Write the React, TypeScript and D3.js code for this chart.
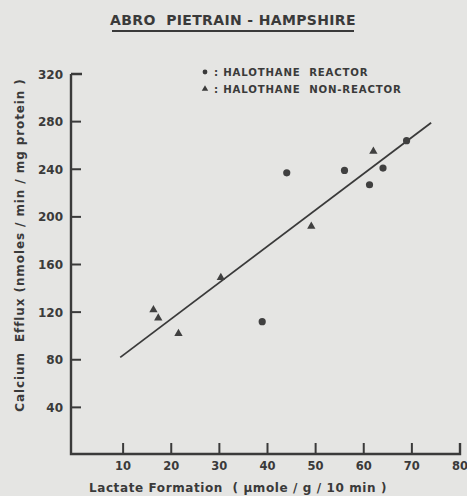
import React from "react";
import * as d3 from "d3";

const reactorX = [44, 56, 64, 61.2, 68.9, 38.9];
const reactorY = [237, 239, 241, 227, 264, 112];
const nonReactorX = [62, 49.1, 16.3, 17.3, 21.5, 30.3];
const nonReactorY = [255, 192, 122, 115, 102, 149];
const fitX = [9.4, 74];
const fitY = [82, 279];
const xTicks = [10, 20, 30, 40, 50, 60, 70, 80];
const yTicks = [40, 80, 120, 160, 200, 240, 280, 320];

const W = 467, H = 496;
const ink = "#3a3a3a";
const font = "'DejaVu Sans', sans-serif";

export default function App() {
  const x = d3.scaleLinear().domain([0, 80]).range([75, 460]);
  const y = d3.scaleLinear().domain([0, 320]).range([455, 74]);
  const line = d3.line<[number, number]>().x(d => x(d[0])).y(d => y(d[1]));
  const fit: [number, number][] = fitX.map((v, i) => [v, fitY[i]]);
  const tri = d3.symbol().type(d3.symbolTriangle).size(30)();
  const legTri = d3.symbol().type(d3.symbolTriangle).size(18)();
  const axisLeft = 71;
  const axisBottom = 454;
  return (
    <svg width={W} height={H} style={{ position: "fixed", left: 0, top: 0, background: "#e5e5e3" }}>
      <rect x={0} y={0} width={W} height={H} fill="#e5e5e3" />
      <text x={233} y={25} textAnchor="middle" fontFamily={font} fontWeight="bold" fontSize={14} letterSpacing={0.35} fill={ink}>
        ABRO{"\u00a0\u00a0"}PIETRAIN - HAMPSHIRE
      </text>
      <line x1={112} x2={354} y1={31} y2={31} stroke={ink} strokeWidth={1.8} />
      {/* legend */}
      <circle cx={205} cy={72} r={2.4} fill={ink} />
      <text x={214} y={76} fontFamily={font} fontWeight="bold" fontSize={10.2} letterSpacing={0.8} fill={ink}>:{"\u00a0"}HALOTHANE{"\u00a0\u00a0"}REACTOR</text>
      <path d={legTri as string} transform={`translate(205,89)`} fill={ink} />
      <text x={214} y={93} fontFamily={font} fontWeight="bold" fontSize={10.2} letterSpacing={0.8} fill={ink}>:{"\u00a0"}HALOTHANE{"\u00a0\u00a0"}NON-REACTOR</text>
      {/* axes */}
      <path d={`M${axisLeft},${y(320)}H${axisLeft + 11}M${axisLeft},${y(320)}V${axisBottom}H${x(80)}V${axisBottom - 11}`} fill="none" stroke={ink} strokeWidth={2.4} />
      {yTicks.filter(t => t < 320).map(t => (
        <line key={"yt" + t} x1={axisLeft} x2={axisLeft + 10} y1={y(t)} y2={y(t)} stroke={ink} strokeWidth={2} />
      ))}
      {yTicks.map(t => (
        <text key={"yl" + t} x={63} y={y(t) + 4.5} textAnchor="end" fontFamily={font} fontWeight="bold" fontSize={12} fill={ink}>{t}</text>
      ))}
      {xTicks.filter(t => t < 80).map(t => (
        <line key={"xt" + t} x1={x(t)} x2={x(t)} y1={axisBottom} y2={axisBottom - 11} stroke={ink} strokeWidth={2} />
      ))}
      {xTicks.map(t => (
        <text key={"xl" + t} x={x(t)} y={470} textAnchor="middle" fontFamily={font} fontWeight="bold" fontSize={11.5} fill={ink}>{t}</text>
      ))}
      <text x={238} y={492} textAnchor="middle" fontFamily={font} fontWeight="bold" fontSize={12} letterSpacing={0.6} fill={ink}>
        Lactate{"\u00a0"}Formation{"\u00a0\u00a0"}( μmole / g / 10 min )
      </text>
      <text transform={`translate(24,245) rotate(-90)`} textAnchor="middle" fontFamily={font} fontWeight="bold" fontSize={12} letterSpacing={0.9} fill={ink}>
        Calcium{"\u00a0\u00a0"}Efflux{"\u00a0"}(nmoles / min / mg protein )
      </text>
      {/* fit line */}
      <path d={line(fit) as string} fill="none" stroke={ink} strokeWidth={1.8} />
      {reactorX.map((v, i) => (
        <circle key={"r" + i} cx={x(v)} cy={y(reactorY[i])} r={3.6} fill="#404040" />
      ))}
      {nonReactorX.map((v, i) => (
        <path key={"n" + i} d={tri as string} transform={`translate(${x(v)},${y(nonReactorY[i])})`} fill="#404040" />
      ))}
    </svg>
  );
}
